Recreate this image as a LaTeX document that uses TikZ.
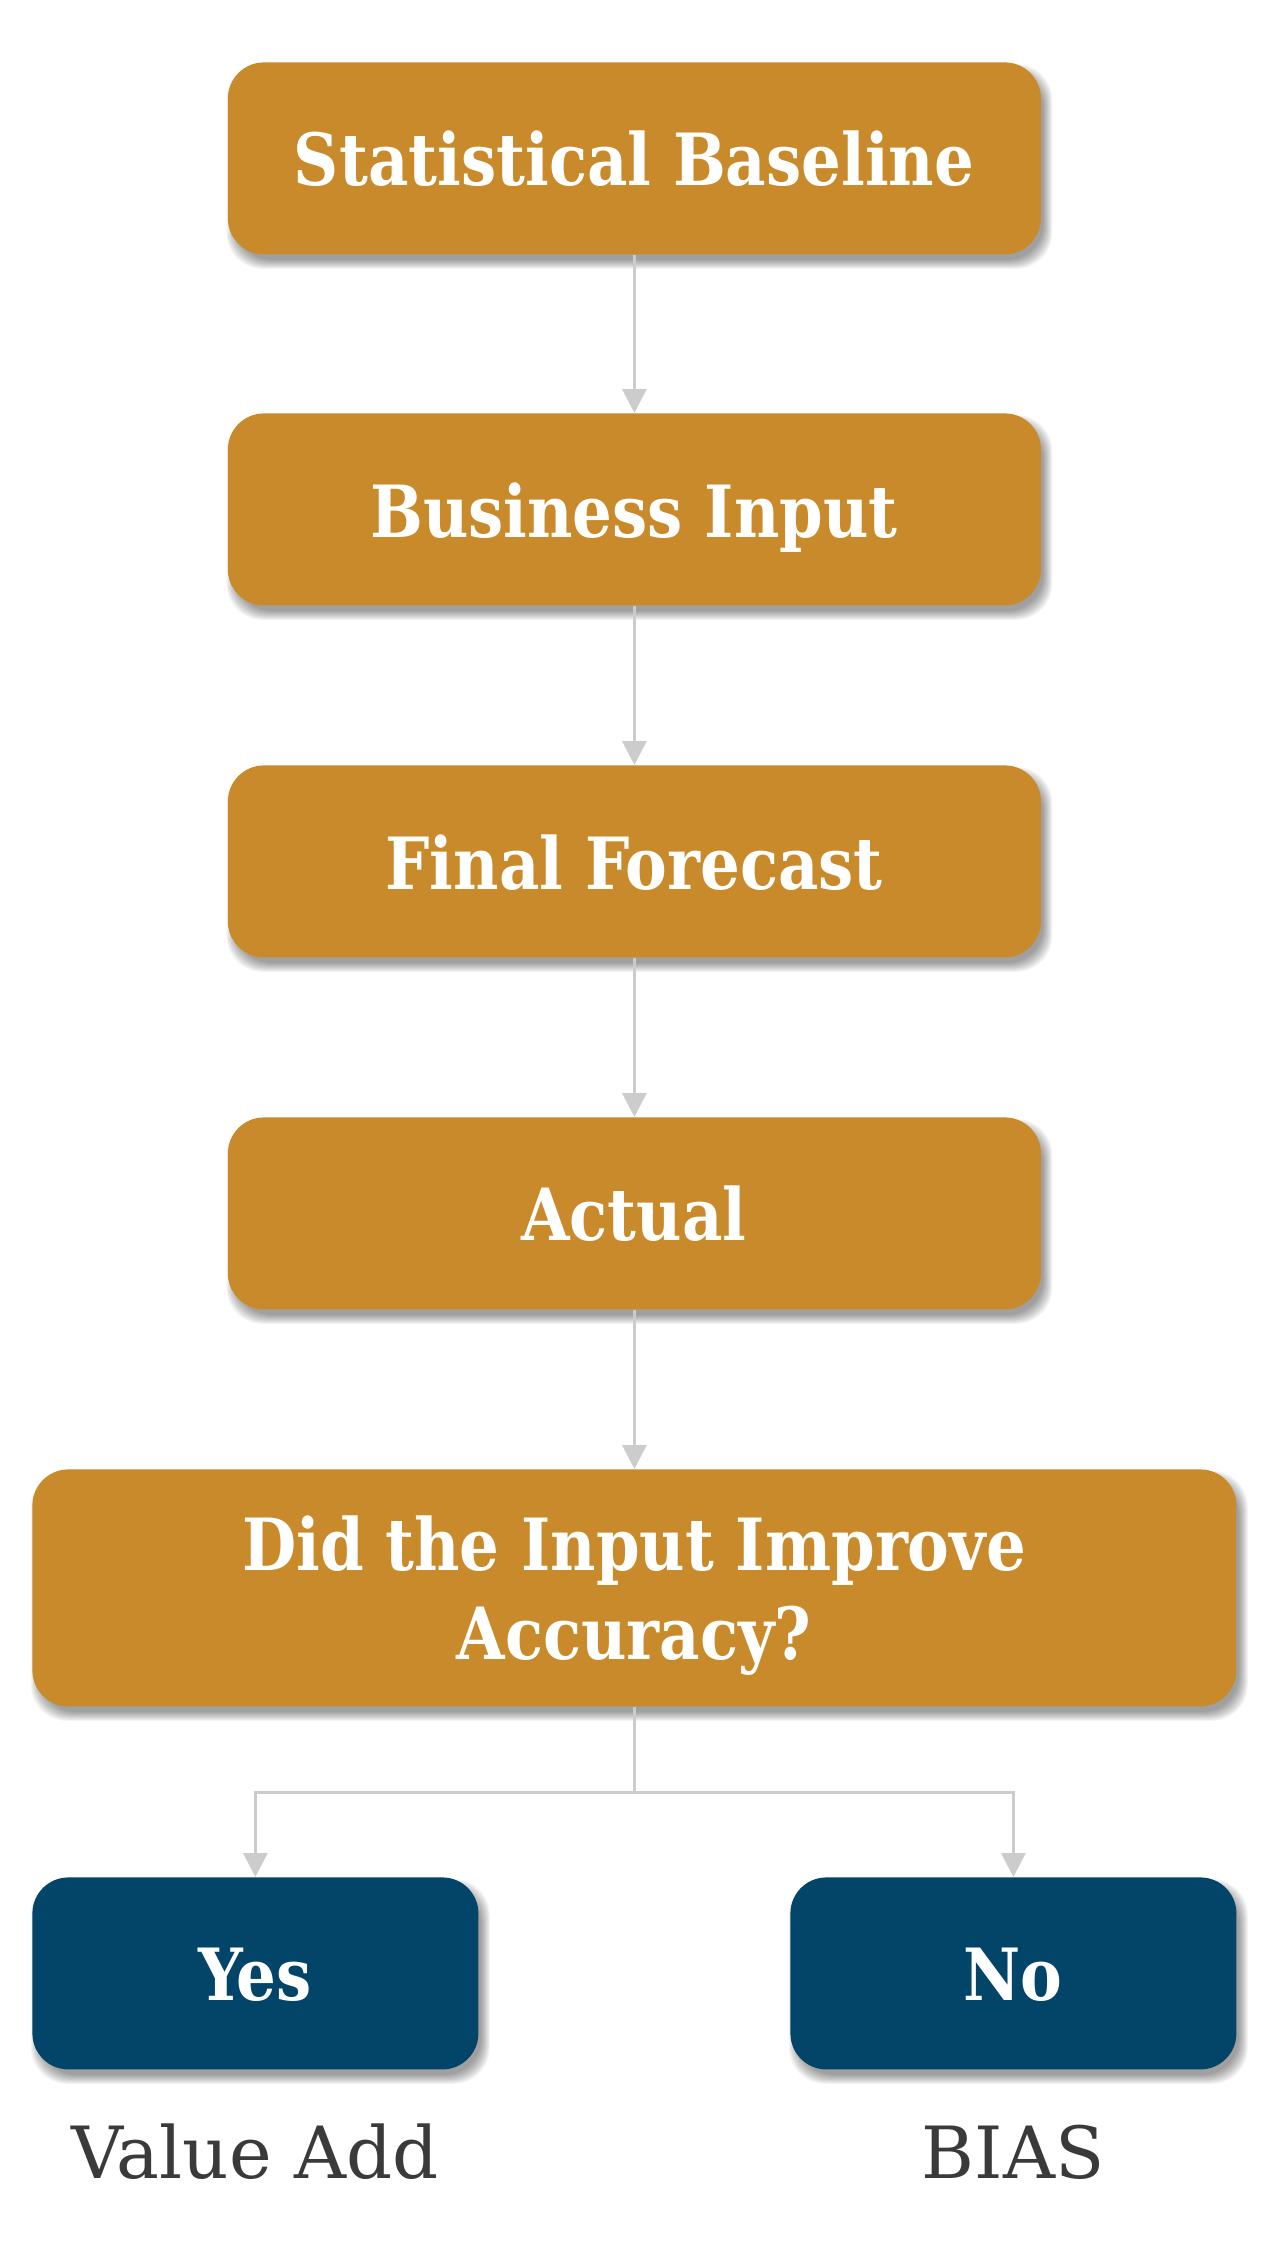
\documentclass[tikz,border=0pt]{standalone}
\usepackage{fontspec}
\setmainfont{DejaVu Serif}
\newfontfamily\boxfont{DejaVu Serif Condensed}[FakeStretch=0.965]
\usetikzlibrary{arrows.meta,backgrounds}
\definecolor{gold}{RGB}{200,138,42}
\definecolor{navy}{RGB}{2,69,104}
\definecolor{conngray}{RGB}{204,204,204}
\definecolor{lblgray}{RGB}{58,58,58}
\begin{document}
\begin{tikzpicture}[x=0.5pt,y=-0.5pt,
  boxshape/.style={rectangle,rounded corners=18pt,inner sep=0pt,anchor=north west},
  goldbox/.style={boxshape,fill=gold,minimum width=406.5pt,minimum height=96pt},
  bigbox/.style={boxshape,fill=gold,minimum width=602pt,minimum height=118.5pt},
  navybox/.style={boxshape,fill=navy,minimum width=223pt,minimum height=96pt},
  boxtext/.style={text=white,font=\boxfont\fontsize{36}{44.25}\selectfont\bfseries,anchor=base,inner sep=0pt,align=center},
  lbltext/.style={text=lblgray,font=\fontsize{36}{44.5}\selectfont,anchor=base,inner sep=0pt},
  connline/.style={draw=conngray,line width=1.5pt,-{Triangle[width=12pt,length=12pt]}}
]
\useasboundingbox (0,0) rectangle (1272,2250);

\node[goldbox] (b1) at (227.5,62) {};
\node[goldbox] (b2) at (227.5,413) {};
\node[goldbox] (b3) at (227.5,765) {};
\node[goldbox] (b4) at (227.5,1117) {};
\node[bigbox] (b5) at (32,1469) {};
\node[navybox] (yes) at (32,1877) {};
\node[navybox] (no) at (790,1877) {};

\begin{scope}[on background layer]
\fill[white] (0,0) rectangle (1272,2250);
\foreach \n in {b1,b2,b3,b4,b5,yes,no}{
  \foreach \i in {1,...,10}{
    \fill[black,opacity=0.045,rounded corners=18pt]
      ([xshift=2.5pt+2pt-\i*0.5pt,yshift=-4pt-2pt+\i*0.5pt]\n.north west) rectangle
      ([xshift=2.5pt-2pt+\i*0.5pt,yshift=-4pt+2pt-\i*0.5pt]\n.south east);
  }
}
\end{scope}

\node[boxtext] (t1) at (634,185) {Statistical Baseline};
\node[boxtext] (t2) at (634,537) {Business Input};
\node[boxtext] (t3) at (634,889) {Final Forecast};
\node[boxtext] (t4) at (634,1240) {Actual};
\node[boxtext] (t5) at (634,1659) {Did the Input Improve\\Accuracy?};
\node[boxtext] (t6) at (255,2000) {Yes};
\node[boxtext] (t7) at (1013,2000) {No};
\node[lbltext] (l1) at (255,2178) {Value Add};
\node[lbltext] (l2) at (1013,2178) {BIAS};

\draw[connline] (b1.south) -- (b2.north);
\draw[connline] (b2.south) -- (b3.north);
\draw[connline] (b3.south) -- (b4.north);
\draw[connline] (b4.south) -- (b5.north);
\draw[connline] (b5.south) -- ++(0,85.7) -| (yes.north);
\draw[connline] (b5.south) -- ++(0,85.7) -| (no.north);
\end{tikzpicture}
\end{document}
